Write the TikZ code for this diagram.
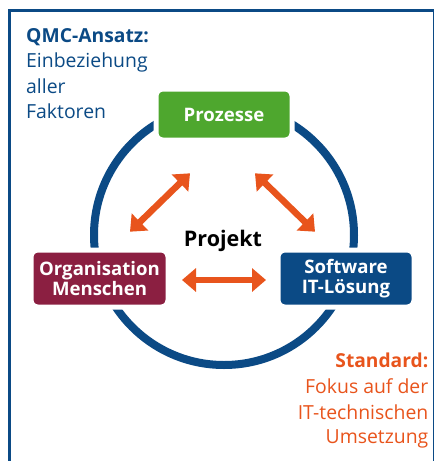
\documentclass[tikz,border=0pt]{standalone}
\usepackage{fontspec}
\setmainfont{Open Sans}
\usetikzlibrary{arrows.meta}
\definecolor{qblue}{HTML}{0B4A85}
\definecolor{qgreen}{HTML}{4EA72E}
\definecolor{qred}{HTML}{8B1F41}
\definecolor{qorange}{HTML}{E8541C}
\tikzset{
  boxstyle/.style={draw=white, line width=5pt, rounded corners=7pt, inner sep=0pt,
    text=white, font=\fontsize{18.6}{20}\selectfont\bfseries, align=center},
  dblarrow/.style={qorange, line width=6.5pt,
    {Triangle[width=23pt,length=14pt]}-{Triangle[width=23pt,length=14pt]}},
  lefttext/.style={anchor=base west, inner sep=0pt, text=qblue, font=\fontsize{19.4}{25}\selectfont},
  righttext/.style={anchor=base east, inner sep=0pt, text=qorange, font=\fontsize{19.4}{25}\selectfont},
}
\begin{document}
\begin{tikzpicture}[x=1pt,y=-1pt]
\useasboundingbox (0,0) rectangle (442,461);
% frame
\draw[qblue, line width=2.6pt] (9.3,461) -- (9.3,10.5) -- (433.5,10.5);
\draw[qblue, line width=1.2pt] (433.5,10.5) -- (433.5,461);
% ring
\draw[qblue, line width=8pt] (224,235) circle[radius=130pt];
% boxes
\node[boxstyle, fill=qgreen, minimum width=136pt, minimum height=51pt] (proz) at (224,114.5) {Prozesse};
\node[boxstyle, fill=qred, minimum width=137pt, minimum height=57pt] (org) at (99.5,278.5) {Organisation\\Menschen};
\node[boxstyle, fill=qblue, minimum width=136pt, minimum height=57pt] (soft) at (346,278.5) {Software\\IT-Lösung};
\node[font=\fontsize{21.5}{22}\selectfont\bfseries, inner sep=0pt] (proj) at (223,241) {Projekt};
% arrows
\coordinate (a1) at (130,231.7); \coordinate (a2) at (190,173.3);
\coordinate (b1) at (255,173.3); \coordinate (b2) at (315,231.7);
\coordinate (c1) at (182,280); \coordinate (c2) at (266,280);
\draw[dblarrow] (a1) -- (a2);
\draw[dblarrow] (b1) -- (b2);
\draw[dblarrow] (c1) -- (c2);
% texts
\node[lefttext, font=\fontsize{19.3}{25}\selectfont\bfseries] (t1) at (26,42) {QMC-Ansatz:};
\node[lefttext] (t2) at (26,67.5) {Einbeziehung};
\node[lefttext] (t3) at (26,93) {aller};
\node[lefttext] (t4) at (26,118.5) {Faktoren};
\node[righttext, font=\fontsize{19.2}{25}\selectfont\bfseries] (r1) at (428.5,367) {Standard:};
\node[righttext] (r2) at (428.5,393) {Fokus auf der};
\node[righttext] (r3) at (428.5,419) {IT-technischen};
\node[righttext] (r4) at (428.5,443.5) {Umsetzung};
\end{tikzpicture}
\end{document}
